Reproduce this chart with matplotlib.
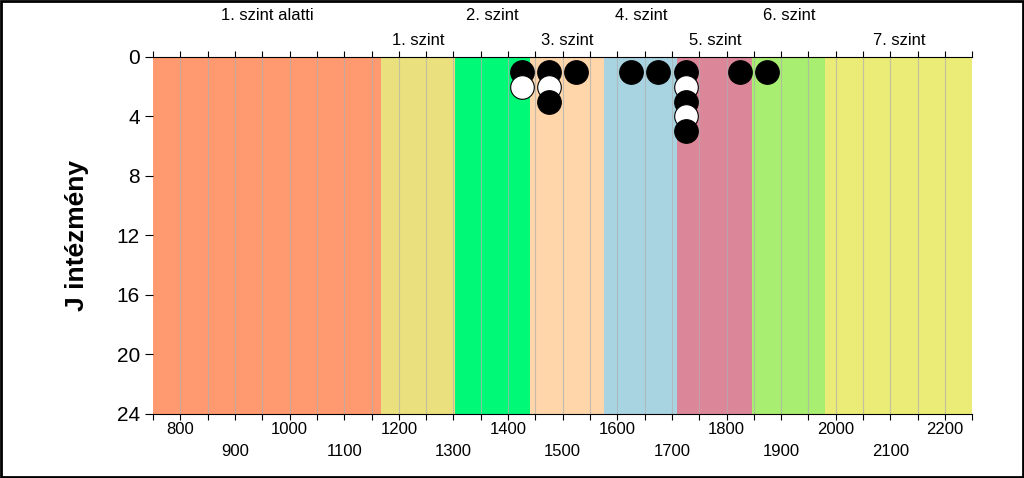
import matplotlib.pyplot as plt
import numpy as np

plt.rcParams['font.family'] = ['Liberation Sans', 'DejaVu Sans']

# szint hatarok es szinek
hatarok = [750, 1168, 1303, 1440, 1576, 1710, 1847, 1981, 2250]
szint_nevek = ['1. szint alatti', '1. szint', '2. szint', '3. szint',
               '4. szint', '5. szint', '6. szint', '7. szint']
szinek = ['#FF9970', '#EAE07E', '#00FA78', '#FFD5AA',
          '#A8D4E2', '#DC8799', '#A8EE70', '#EBEB78']

# pontok: kepessegpont es sorszam, fekete/feher
pont_x = [1425, 1425, 1475, 1475, 1475, 1525, 1625, 1675,
          1725, 1725, 1725, 1725, 1725, 1825, 1875]
pont_y = [1, 2, 1, 2, 3, 1, 1, 1, 1, 2, 3, 4, 5, 1, 1]
pont_szin = ['k', 'w', 'k', 'w', 'k', 'k', 'k', 'k',
             'k', 'w', 'k', 'w', 'k', 'k', 'k']

fig = plt.figure(figsize=(10.24, 4.78), dpi=100)
ax = fig.add_axes([0.1495, 0.134, 0.8, 0.747])

for i in range(len(szint_nevek)):
    ax.axvspan(hatarok[i], hatarok[i + 1], color=szinek[i], lw=0, zorder=0)
    kozep = (hatarok[i] + hatarok[i + 1]) / 2
    sor_y = 1.115 if i % 2 == 0 else 1.045
    ax.text(kozep, sor_y, szint_nevek[i], transform=ax.get_xaxis_transform(),
            ha='center', va='center', fontsize=12)

xt = np.arange(750, 2251, 50)
for v in xt[1:-1]:
    ax.axvline(v, color='#b0b0b0', lw=0.8, alpha=0.7, zorder=1)

for x, y, c in zip(pont_x, pont_y, pont_szin):
    ax.plot(x, y, 'o', ms=17, mfc=c, mec='k', mew=0.8, zorder=3)

ax.set_xlim(750, 2250)
ax.set_ylim(24, 0)
ax.set_yticks(np.arange(0, 25, 4))
ax.tick_params(axis='y', labelsize=15, length=6, width=0.8)

cimkek = []
for v in xt:
    if v % 200 == 0:
        cimkek.append(str(v))
    elif v % 100 == 0:
        cimkek.append('\n' + str(v))
    else:
        cimkek.append('')
ax.set_xticks(xt)
ax.set_xticklabels(cimkek, fontsize=12, linespacing=1.6)
ax.tick_params(axis='x', top=True, length=4, width=0.8, pad=2)

for s in ['left', 'right']:
    ax.spines[s].set_visible(False)
ax.spines['bottom'].set_linewidth(0.8)
ax.spines['top'].set_linewidth(0.8)

ax.set_ylabel('J intézmény', fontsize=19, fontweight='bold', labelpad=20)

fig.patches.append(plt.Rectangle((0.001, 0.002), 0.998, 0.996, transform=fig.transFigure,
                                 fill=False, ec='k', lw=2))

fig.savefig('out.png', dpi=100)
